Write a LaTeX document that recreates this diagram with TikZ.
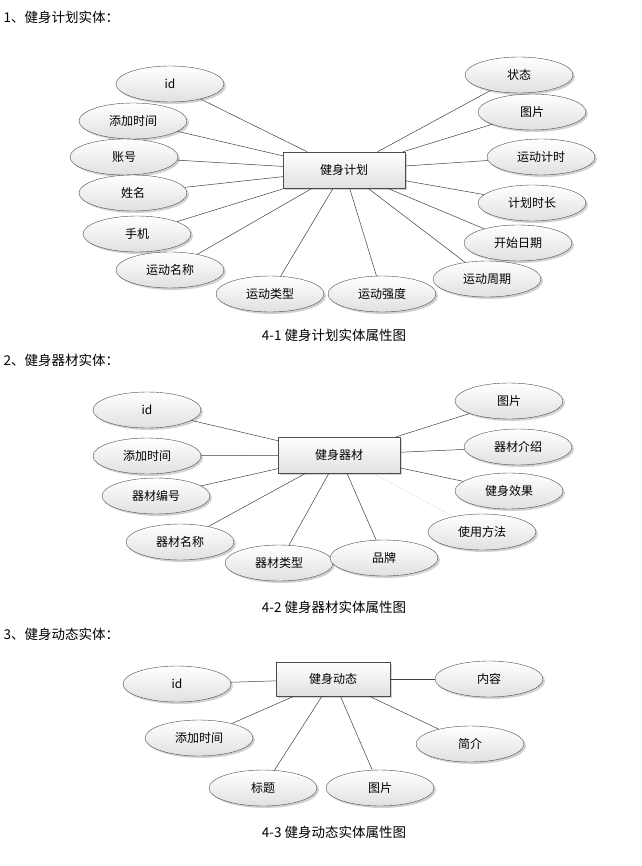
\documentclass[tikz,border=0pt]{standalone}
\usepackage{fontspec}
\setmainfont{Noto Sans CJK SC}
\usetikzlibrary{shapes.geometric,shadows}
\begin{document}
\begin{tikzpicture}[x=1pt,y=-1pt,
  ent/.style={draw=black!70,rectangle,top color=white,bottom color=black!12,drop shadow={opacity=0.35,shadow xshift=2pt,shadow yshift=-2pt},font=\fontsize{12}{14}\selectfont},
  att/.style={draw=black!70,ellipse,minimum width=108pt,minimum height=36pt,inner sep=0pt,top color=white,bottom color=black!12,drop shadow={opacity=0.35,shadow xshift=2pt,shadow yshift=-2pt},font=\fontsize{12}{14}\selectfont},
  ln/.style={draw=black!75,line width=0.5pt},
  hd/.style={anchor=west,font=\fontsize{13.5}{16}\selectfont},
  captext/.style={font=\fontsize{13.5}{16}\selectfont}]
\useasboundingbox[fill=white] (0,0) rectangle (641,866);
% ---------- 1
\node[hd] (h1) at (0,17) {1、健身计划实体：};
\node[ent,minimum width=122pt,minimum height=36pt] (e1) at (344,170) {健身计划};
\foreach \n/\x/\y/\t in {a/170/84/id,b/133/121/添加时间,c/124/157/账号,d/133/193/姓名,e/137/234/手机,f/170/270/运动名称,g/270/294/运动类型,h/382/294/运动强度,i/487/279/运动周期,j/518/243/开始日期,k/532/203/计划时长,l/541/157/运动计时,m/532/112/图片,n/519/75/状态}{
  \node[att] (p\n) at (\x,\y) {\t};
  \draw[ln] (p\n) -- (e1);
}
\node[captext] (c1) at (334,335) {4-1 健身计划实体属性图};
% ---------- 2
\node[hd] (h2) at (0,360) {2、健身器材实体：};
\node[ent,minimum width=122pt,minimum height=36pt] (e2) at (339,455) {健身器材};
\foreach \n/\x/\y/\t in {a/147/410/id,b/147/456/添加时间,c/156/496/器材编号,d/180/542/器材名称,e/279/563/器材类型,f/384/558/品牌,h/509/491/健身效果,i/518/447/器材介绍,j/509/401/图片}{
  \node[att] (q\n) at (\x,\y) {\t};
  \draw[ln] (q\n) -- (e2);
}
\node[att] (qg) at (482,532) {使用方法};
\draw[black!35,densely dotted] (qg) -- (e2);
\node[captext] (c2) at (334,607) {4-2 健身器材实体属性图};
% ---------- 3
\node[hd] (h3) at (0,634) {3、健身动态实体：};
\node[ent,minimum width=114pt,minimum height=34pt] (e3) at (333,679) {健身动态};
\foreach \n/\x/\y/\t in {a/177/684/id,b/199/738/添加时间,c/263/788/标题,d/380/788/图片,e/470/744/简介,f/489/679/内容}{
  \node[att] (r\n) at (\x,\y) {\t};
  \draw[ln] (r\n) -- (e3);
}
\node[captext] (c3) at (334,832) {4-3 健身动态实体属性图};
\end{tikzpicture}
\end{document}
